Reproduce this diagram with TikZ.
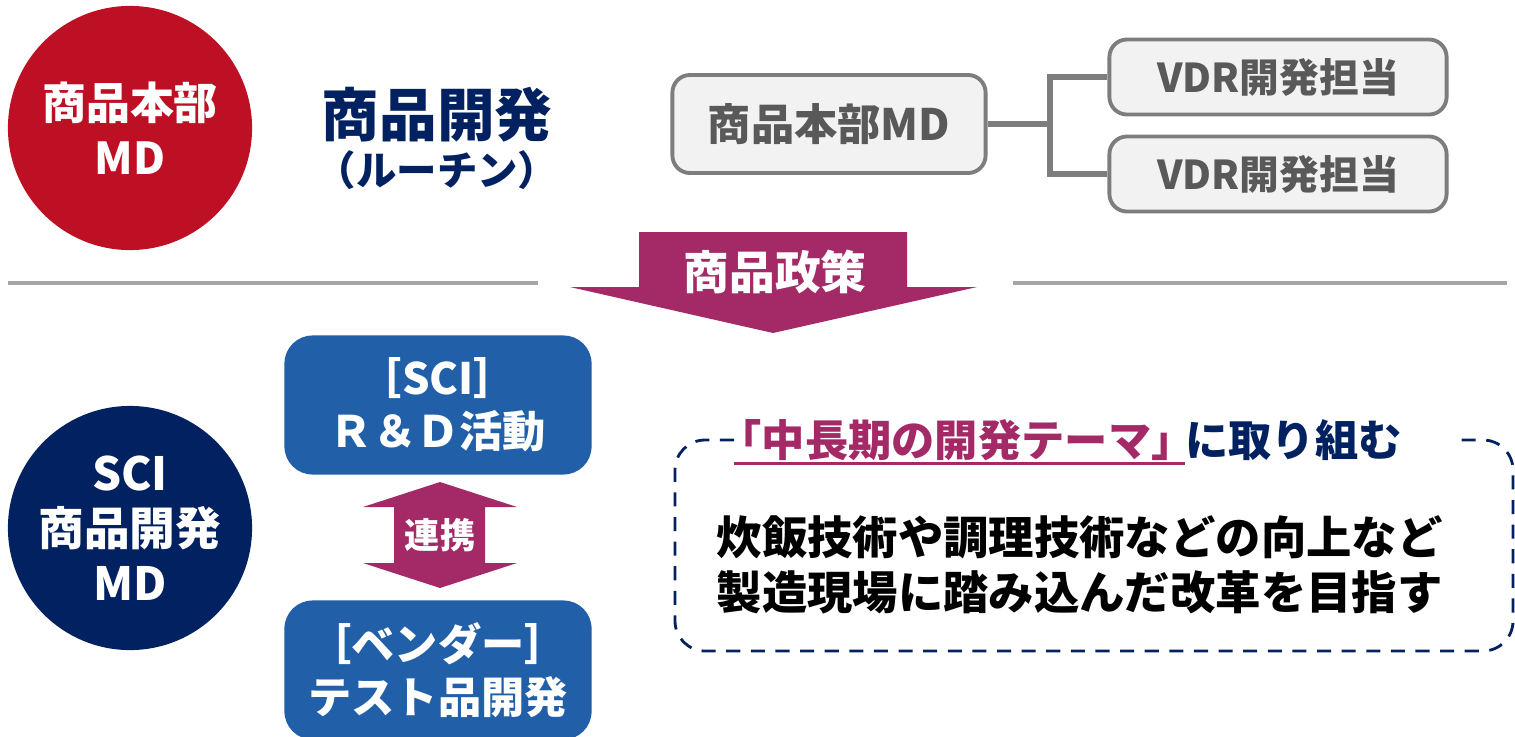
\documentclass[tikz,border=0pt]{standalone}
\usepackage{fontspec}
\setmainfont{Noto Sans CJK JP}
\usetikzlibrary{positioning}

\definecolor{mdred}{RGB}{190,16,36}
\definecolor{mdnavy}{RGB}{2,33,96}
\definecolor{polpurple}{RGB}{163,42,102}
\definecolor{rdblue}{RGB}{33,96,168}
\definecolor{boxgray}{RGB}{242,242,242}
\definecolor{linegray}{RGB}{125,125,125}
\definecolor{textgray}{RGB}{89,89,89}
\definecolor{rulegray}{RGB}{166,166,166}

\newcommand{\fs}[2]{\fontsize{#1}{#2}\selectfont\bfseries}

\begin{document}
\begin{tikzpicture}[x=0.01cm,y=-0.01cm,
    roundel/.style={circle, minimum size=2.44cm, inner sep=0pt, text=white, align=center, font=\fs{12.5}{15.6}},
    grayblock/.style={draw=linegray, line width=1.1pt, fill=boxgray, rounded corners=5pt, text=textgray, inner sep=0pt},
    blueblock/.style={fill=rdblue, rounded corners=8pt, minimum width=3.07cm, minimum height=1.39cm, text=white, align=center, inner sep=0pt, font=\fs{12.3}{15}},
    rule/.style={draw=rulegray, line width=0.9pt}]
  \clip (0,0) rectangle (1515,736);

  % top half
  \node[roundel, fill=mdred] (hqmd) at (130,128) {商品本部\\MD};
  \node[text=mdnavy, align=center, font=\fs{16.4}{16}] (routine) at (437,115) {商品開発};
  \node[text=mdnavy, font=\fs{11.5}{14}] (routinesub) at (437,170) {（ルーチン）};

  \node[grayblock, minimum width=3.13cm, minimum height=0.98cm, font=\fs{12.3}{14}] (hqbox) at (829,124) {商品本部MD};
  \node[grayblock, minimum width=3.37cm, minimum height=0.75cm, font=\fs{11.3}{14}] (vdra) at (1278,77) {VDR開発担当};
  \node[grayblock, minimum width=3.37cm, minimum height=0.75cm, font=\fs{11.3}{14}] (vdrb) at (1278,174) {VDR開発担当};
  \coordinate (fork) at (1050,124);
  \draw[linegray, line width=1.5pt] (hqbox.east) -- (fork) |- (vdra.west);
  \draw[linegray, line width=1.5pt] (fork) |- (vdrb.west);

  % divider and policy arrow
  \draw[rule] (8,283) -- (538,283);
  \draw[rule] (1013,283) -- (1507,283);
  \fill[polpurple] (639,232) -- (907,232) -- (907,287) -- (977,287) -- (773,333)
    -- (570,287) -- (639,287) -- cycle;
  \node[text=white, font=\fs{13}{15}] (policy) at (775,272) {商品政策};

  % bottom half
  \node[roundel, fill=mdnavy, font=\fs{13}{15.6}] (scimd) at (130,528) {SCI\\商品開発\\MD};
  \node[blueblock] (rnd) at (438,405) {［SCI］\\Ｒ＆Ｄ活動};
  \node[blueblock] (vendor) at (438,670) {［ベンダー］\\テスト品開発};
  \fill[polpurple] (440,482) -- (517,507) -- (485,507) -- (485,563) -- (517,563)
    -- (440,588) -- (363,563) -- (394,563) -- (394,507) -- (363,507) -- cycle;
  \node[text=white, font=\fs{10}{12}] (link) at (440,535) {連携};

  \draw[mdnavy, line width=0.8pt, dashed, dash pattern=on 4pt off 3pt, rounded corners=0.3cm]
    (734,440) -| (675,651) -| (1513,440) -- (1456,440);
  \node[text=polpurple, inner sep=0pt, anchor=west, font=\fs{12.3}{14}] (themea) at (718,440) {「中長期の開発テーマ」};
  \node[text=mdnavy, inner sep=0pt, anchor=west, font=\fs{12.3}{14}] (themeb) at ([xshift=-3pt]themea.east) {に取り組む};
  \draw[polpurple, line width=1pt] ([xshift=4.5pt,yshift=-2pt]themea.base west) -- ([xshift=-3pt,yshift=-2pt]themea.base east);
  \node[anchor=west, align=left, inner sep=0pt, font=\fs{12.9}{15.6}] (aim) at (716,565)
    {炊飯技術や調理技術などの向上など\\製造現場に踏み込んだ改革を目指す};
\end{tikzpicture}
\end{document}
